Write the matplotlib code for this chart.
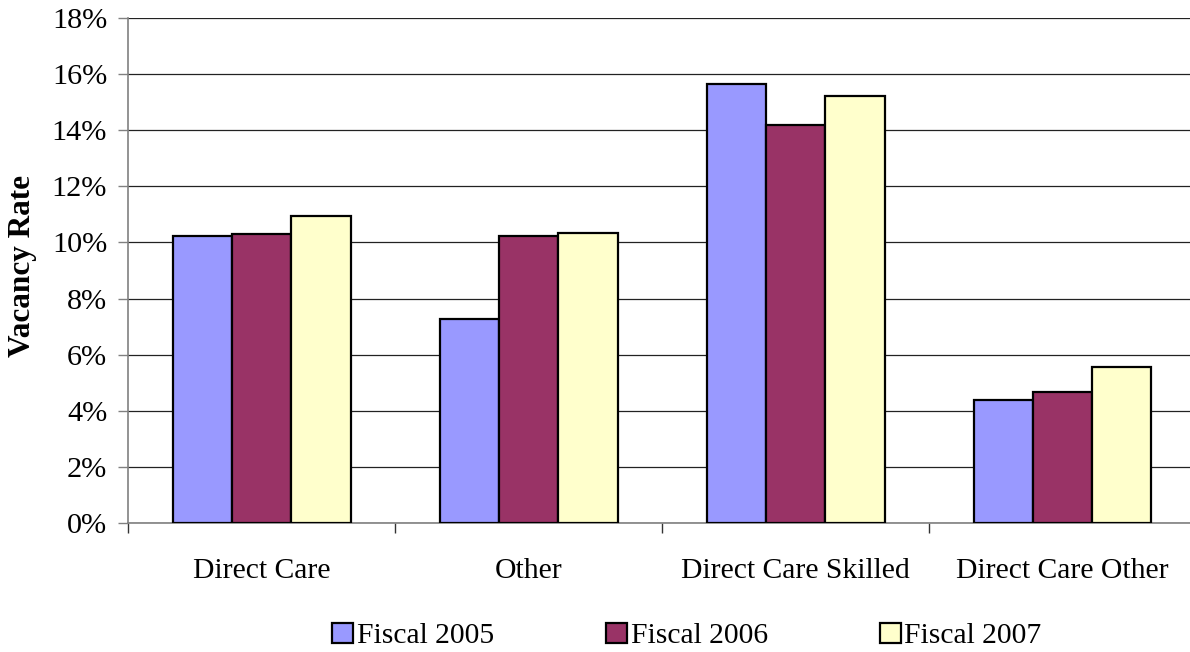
import matplotlib
matplotlib.use("Agg")
import matplotlib.pyplot as plt
import numpy as np

categories = ["Direct Care", "Other", "Direct Care Skilled", "Direct Care Other"]
series_names = ["Fiscal 2005", "Fiscal 2006", "Fiscal 2007"]
fy2005 = [10.22, 7.26, 15.64, 4.40]
fy2006 = [10.30, 10.22, 14.18, 4.66]
fy2007 = [10.93, 10.33, 15.22, 5.55]
colors = ["#9999FF", "#993366", "#FFFFCC"]
yticks = [0, 2, 4, 6, 8, 10, 12, 14, 16, 18]

plt.rcParams['font.family'] = ['Liberation Serif', 'DejaVu Serif']
FS = 21.3

fig = plt.figure(figsize=(11.9, 6.52), dpi=100)
W, H = 1190, 652
left, right, top, bottom = 128, 1196, 18, 523
ax = fig.add_axes([left / W, 1 - bottom / H, (right - left) / W, (bottom - top) / H])

x = np.arange(len(categories))
bw = 1 / 4.5
data = [fy2005, fy2006, fy2007]
for i, (vals, c, name) in enumerate(zip(data, colors, series_names)):
    ax.bar(x + (i - 1) * bw, vals, width=bw, color=c, edgecolor="black",
           linewidth=1.6, label=name, zorder=3)

ax.set_xlim(-0.5, len(categories) - 0.5)
ax.set_ylim(0, 18)
ax.set_yticks(yticks)
ax.set_yticklabels([f"{v}%" for v in yticks], fontsize=FS + 0.5)
ax.yaxis.grid(True, color="#222222", linewidth=0.9, zorder=0)
ax.tick_params(axis='y', length=7, width=1, color="#808080", pad=8)

# category boundary ticks (major) and centered labels (minor)
ax.set_xticks(np.arange(-0.5, len(categories), 1.0))
ax.set_xticklabels([])
ax.tick_params(axis='x', which='major', length=7, width=1, color="#333333", direction='out')
ax.set_xticks(x, minor=True)
ax.set_xticklabels(categories, minor=True, fontsize=FS)
ax.tick_params(axis='x', which='minor', length=0, pad=25)

for s in ["top", "right"]:
    ax.spines[s].set_visible(False)
ax.spines["left"].set_color("#808080")
ax.spines["bottom"].set_color("#808080")
ax.spines["left"].set_linewidth(1.2)
ax.spines["bottom"].set_linewidth(1.2)

ax.set_ylabel("Vacancy Rate", fontsize=22.5, fontweight="bold")
ax.yaxis.set_label_coords((37 - left) / (right - left), 0.508)

leg = fig.legend(loc="center", bbox_to_anchor=(687 / W, 1 - 636 / H), ncol=3,
                 frameon=False, fontsize=FS, handlelength=0.7, handleheight=0.7,
                 handletextpad=0.12, columnspacing=3.8)

fig.savefig("out.png", dpi=100)
